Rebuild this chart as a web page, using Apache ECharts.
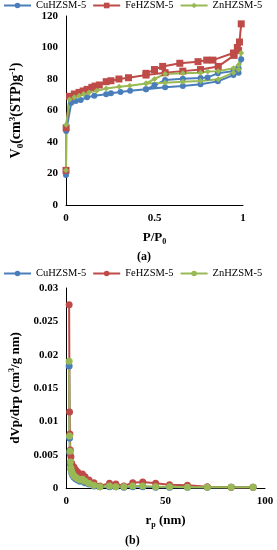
<!DOCTYPE html>
<html><head><meta charset="utf-8">
<script src="https://cdn.jsdelivr.net/npm/echarts@6/dist/echarts.min.js"></script>
<style>html,body{margin:0;padding:0;background:#fff}#c{width:277px;height:550px}</style>
</head><body><div id="c"></div>
<script>
// ---- Chart (a): N2 isotherms (adsorption then desorption) ----
const cuP = [0, 0.001, 0.03, 0.055, 0.083, 0.119, 0.16, 0.227, 0.254, 0.308, 0.362, 0.452, 0.56, 0.66, 0.76, 0.858, 0.946, 0.975, 0.99, 0.975, 0.946, 0.858, 0.8, 0.76, 0.66, 0.56, 0.5, 0.452];
const cuV = [19, 47, 65, 66, 66.7, 68.4, 69.3, 70.3, 71, 71.7, 72.6, 73.5, 74.7, 75.5, 76.7, 78.5, 82.5, 84, 92.5, 86.8, 85, 83.6, 81, 80.6, 80.2, 79.4, 76, 73.5];
const feP = [0, 0.001, 0.02, 0.047, 0.074, 0.097, 0.119, 0.146, 0.164, 0.188, 0.227, 0.254, 0.299, 0.353, 0.452, 0.56, 0.66, 0.76, 0.86, 0.95, 0.975, 0.99, 0.98, 0.968, 0.946, 0.83, 0.795, 0.746, 0.643, 0.546, 0.5, 0.452];
const feV = [22, 49, 69, 70.5, 71.5, 72.4, 73.4, 74.7, 75.5, 76.2, 78.3, 78.9, 80, 80.8, 82.5, 84, 85, 86, 88, 95, 98, 115, 103.5, 100, 96.5, 92, 92, 91, 90, 88, 86, 83.6];
const znP = [0, 0.001, 0.02, 0.047, 0.074, 0.1, 0.13, 0.173, 0.227, 0.3, 0.36, 0.452, 0.56, 0.66, 0.76, 0.86, 0.946, 0.975, 0.99, 0.975, 0.946, 0.86, 0.8, 0.76, 0.66, 0.56, 0.5, 0.452];
const znV = [22, 51, 67, 68.4, 69.4, 70.5, 71.5, 72.6, 73.9, 75.1, 75.7, 77.2, 77.6, 78.2, 78.8, 79.8, 84, 86, 96.5, 88.9, 86.8, 85, 84.7, 84, 83.6, 83.2, 80, 77.2];

// ---- Chart (b): pore size distribution ----
const rp = [1.5, 1.7, 1.9, 2.1, 2.4, 2.8, 3.3, 4.0, 4.8, 5.8, 7.0, 8.2, 9.5, 11.5, 14, 17, 21.8, 25, 29, 33.5, 38.5, 45, 52, 61, 71, 83, 94];
const cuD = [0.0183, 0.0075, 0.0052, 0.0036, 0.0028, 0.0023, 0.0019, 0.0016, 0.0014, 0.0012, 0.0010, 0.0011, 0.0008, 0.0006, 0.0003, 0.0002, 0.0002, 0.0002, 0.0001, 0.0002, 0.0002, 0.0001, 0.0001, 0.0001, 0.0001, 0.0001, 0.0001];
const feD = [0.0275, 0.0114, 0.0081, 0.0057, 0.0047, 0.0037, 0.0033, 0.0031, 0.0027, 0.0024, 0.0019, 0.0021, 0.0017, 0.0012, 0.0008, 0.0003, 0.0007, 0.0006, 0.0003, 0.0008, 0.0009, 0.0007, 0.0005, 0.0004, 0.0002, 0.0001, 0.0001];
const znD = [0.019, 0.0078, 0.0055, 0.0039, 0.0030, 0.0025, 0.0021, 0.0018, 0.0016, 0.0014, 0.0012, 0.0013, 0.0010, 0.0007, 0.0004, 0.0002, 0.0003, 0.0002, 0.0002, 0.0003, 0.0003, 0.0002, 0.0002, 0.0001, 0.0001, 0.0001, 0.0001];

const names = ['CuHZSM-5', 'FeHZSM-5', 'ZnHZSM-5'];
const colors = ['#4A7EBB', '#BE4B48', '#98B954'];

const zip = (a, b) => a.map((v, i) => [v, b[i]]);
const FONT = '"Liberation Serif", "Times New Roman", serif';

const axisCommon = {
  axisLine: {show: true, lineStyle: {color: '#000', width: 1}},
  axisTick: {show: false},
  splitLine: {show: false},
  axisLabel: {color: '#000', fontFamily: FONT, fontWeight: 'bold', fontSize: 11, margin: 8},
  nameTextStyle: {color: '#000', fontFamily: FONT, fontWeight: 'bold', fontSize: 13}
};
function mkRich(fs, ss) {
  return {
    n: {fontFamily: FONT, fontWeight: 'bold', fontSize: fs, color: '#000', lineHeight: fs + 3},
    sub: {fontFamily: FONT, fontWeight: 'bold', fontSize: ss, color: '#000', verticalAlign: 'bottom', lineHeight: fs + 3},
    sup: {fontFamily: FONT, fontWeight: 'bold', fontSize: ss, color: '#000', verticalAlign: 'top', lineHeight: fs + 3}
  };
}

const aSymbols = ['circle', 'rect', 'diamond'];
const aSizes = [6, 7, 6];
const aData = [zip(cuP, cuV), zip(feP, feV), zip(znP, znV)];
const bData = [zip(rp, cuD), zip(rp, feD), zip(rp, znD)];

const series = [];
names.forEach((n, i) => {
  series.push({
    name: n, type: 'line', xAxisIndex: 0, yAxisIndex: 0, data: aData[i],
    symbol: aSymbols[i], symbolSize: aSizes[i], showAllSymbol: true,
    lineStyle: {color: colors[i], width: 2}, itemStyle: {color: colors[i]},
    animation: false
  });
});
names.forEach((n, i) => {
  series.push({
    name: n + ' ', type: 'line', xAxisIndex: 1, yAxisIndex: 1, data: bData[i],
    symbol: 'circle', symbolSize: 7, showAllSymbol: true,
    lineStyle: {color: colors[i], width: 2}, itemStyle: {color: colors[i]},
    animation: false
  });
});

const legendCommon = {
  orient: 'horizontal', left: 3, width: 274, padding: 0, itemWidth: 27, itemHeight: 7, itemGap: 6,
  textStyle: {fontFamily: FONT, fontSize: 10.5, color: '#000'},
  formatter: s => s.trim(), selectedMode: false
};

const chart = echarts.init(document.getElementById('c'), null, {renderer: 'canvas'});
chart.setOption({
  backgroundColor: '#fff',
  animation: false,
  legend: [
    Object.assign({}, legendCommon, {top: 0, data: names}),
    Object.assign({}, legendCommon, {top: 268, data: names.map(n => n + ' ')})
  ],
  grid: [
    {left: 58, right: 34, top: 16, height: 189},
    {left: 54, right: 12, top: 288, height: 200}
  ],
  xAxis: [
    Object.assign({}, axisCommon, {type: 'value', gridIndex: 0, min: 0, max: 1, interval: 0.5,
      name: '{n|P/P}{sub|0}', nameLocation: 'middle', nameGap: 25,
      nameTextStyle: Object.assign({}, axisCommon.nameTextStyle, {rich: mkRich(13, 8)})}),
    Object.assign({}, axisCommon, {type: 'value', gridIndex: 1, min: 0, max: 100, interval: 50,
      name: '{n|r}{sub|p}{n| (nm)}', nameLocation: 'middle', nameGap: 25,
      nameTextStyle: Object.assign({}, axisCommon.nameTextStyle, {rich: mkRich(13, 8)})})
  ],
  yAxis: [
    Object.assign({}, axisCommon, {type: 'value', gridIndex: 0, min: 0, max: 120, interval: 20,
      name: '{n|V}{sub|0}{n|(cm}{sup|3}{n|(STP)g}{sup|-1}{n|)}', nameLocation: 'middle', nameGap: 41,
      nameTextStyle: Object.assign({}, axisCommon.nameTextStyle, {rich: mkRich(14, 9)})}),
    Object.assign({}, axisCommon, {type: 'value', gridIndex: 1, min: 0, max: 0.03, interval: 0.005,
      name: '{n|dVp/drp (cm}{sup|3}{n|/g nm)}', nameLocation: 'middle', nameGap: 42,
      nameTextStyle: Object.assign({}, axisCommon.nameTextStyle, {rich: mkRich(13, 8)})})
  ],
  graphic: [
    {type: 'text', left: 137, top: 251, style: {text: '(a)', fontFamily: FONT, fontWeight: 'bold', fontSize: 12, fill: '#000'}},
    {type: 'text', left: 125, top: 535, style: {text: '(b)', fontFamily: FONT, fontWeight: 'bold', fontSize: 12, fill: '#000'}}
  ],
  series: series
});
</script>
</body></html>
